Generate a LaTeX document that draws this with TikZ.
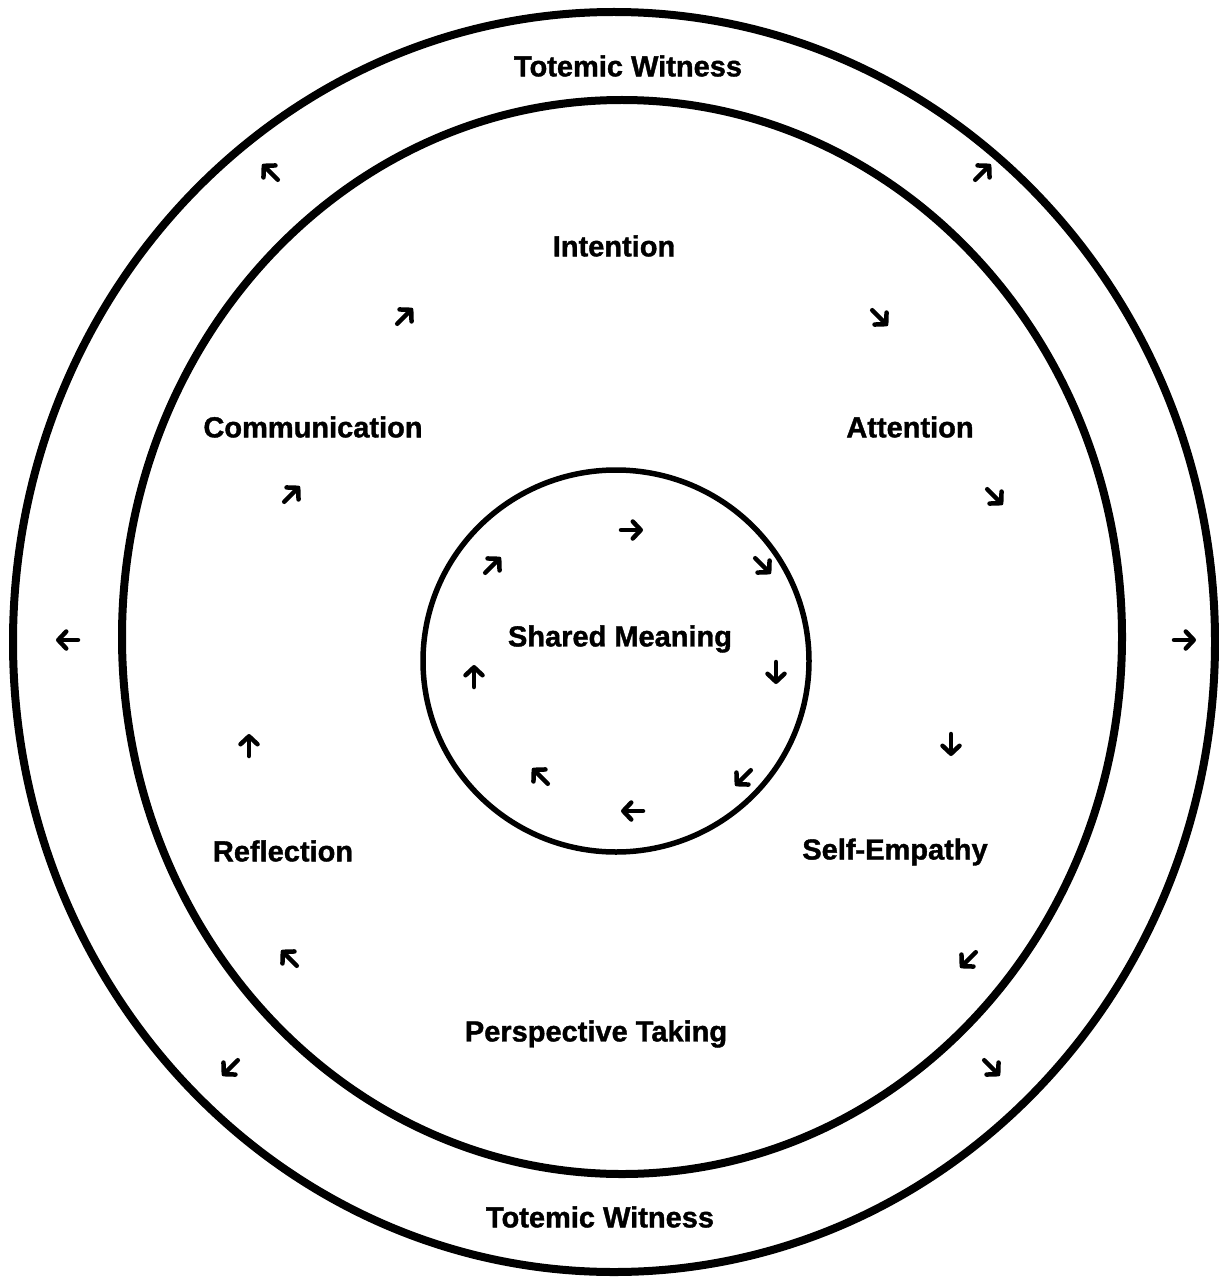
\documentclass[tikz,border=0pt]{standalone}
\usepackage{fontspec}
\setmainfont{Liberation Sans}
\newfontfamily\heavyfont[FakeBold=1.3]{Liberation Sans Bold}
\usepackage{tikz}
\usetikzlibrary{arrows.meta}

\begin{document}
\begin{tikzpicture}[x=1pt, y=-1pt,
    ring/.style = {draw, line width=8pt},
    core/.style = {draw, line width=5.5pt},
    label/.style = {font=\fontsize{29}{34}\heavyfont, inner sep=0pt},
    flow/.style = {line width=4.5pt, line cap=round, -{Straight Barb[length=8pt, width=17pt, round]}}]
    \useasboundingbox (0,0) rectangle (1218,1281);

    % Rings
    \coordinate (outerCtr) at (614,642);
    \coordinate (innerCtr) at (622,637);
    \coordinate (coreCtr) at (616,661);
    \draw [ring] (outerCtr) ellipse [x radius=601pt, y radius=630pt];
    \draw [ring] (innerCtr) ellipse [x radius=500pt, y radius=537pt];
    \draw [core] (coreCtr) ellipse [x radius=193pt, y radius=191pt];

    % Labels
    \node [label] (witnessTop) at (628,66) {Totemic Witness};
    \node [label] (witnessBottom) at (600,1217) {Totemic Witness};
    \node [label] (intention) at (614,246) {Intention};
    \node [label] (communication) at (313,427) {Communication};
    \node [label] (attention) at (910,427) {Attention};
    \node [label] (meaning) at (620,639) {Shared Meaning};
    \node [label] (reflection) at (283,851) {Reflection};
    \node [label] (empathy) at (895,852) {Self-Empathy};
    \node [label] (perspective) at (596,1034) {Perspective Taking};

    % Flow arrows (x/y/direction)
    \foreach \x/\y/\a in {270/172/135, 983/172/45, 67/640/180, 1185/640/0, 230/1068/225, 992/1068/315,
                          405/316/45, 880/318/315, 292/494/45, 995/497/315, 249/745/90, 951/745/270,
                          289/958/135, 968/960/225,
                          632/530/0, 493/565/45, 763/566/315, 474/676/90, 776/673/270, 540/776/135,
                          743/778/225, 632/811/180}
        \draw [flow, shift={(\x,\y)}, rotate=\a] (-11,0) -- (11,0);
\end{tikzpicture}
\end{document}
